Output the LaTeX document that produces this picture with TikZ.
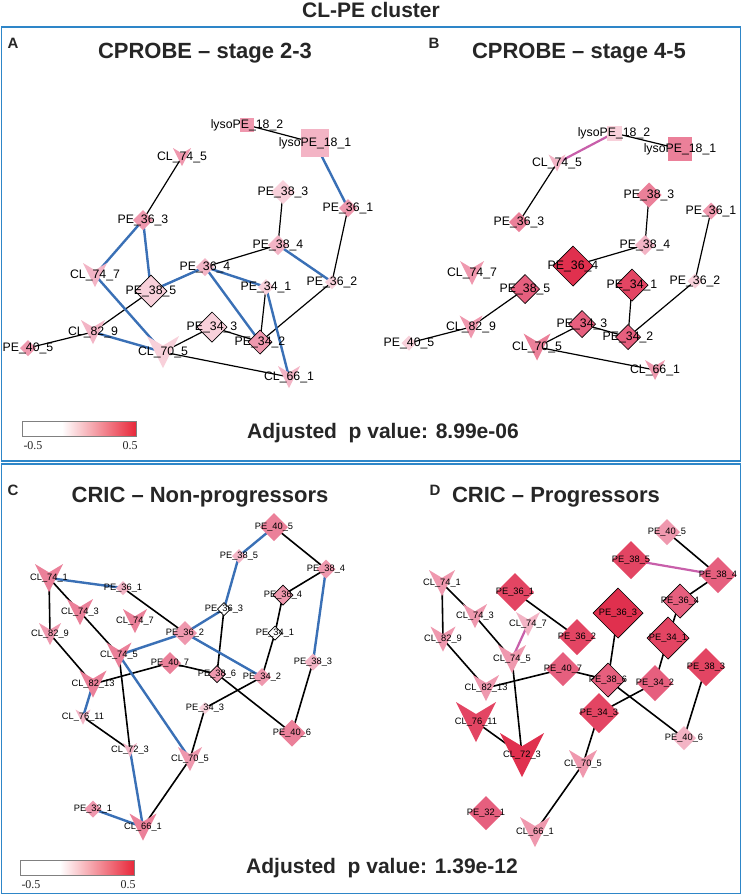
\documentclass[tikz,border=0pt]{standalone}
\usepackage{fontspec}
\setmainfont{Liberation Sans}
\setsansfont{Liberation Sans}
\newfontfamily\serfont{Liberation Serif}
\pgfdeclarelayer{bg}
\pgfdeclarelayer{edges}
\pgfdeclarelayer{shapes}
\pgfsetlayers{bg,edges,shapes,main}
\definecolor{p1}{HTML}{F8D0DA}
\definecolor{p2}{HTML}{F3B4C5}
\definecolor{p3}{HTML}{EF98AE}
\definecolor{p4}{HTML}{EB8099}
\definecolor{p5}{HTML}{E65F7E}
\definecolor{p6}{HTML}{E34563}
\definecolor{p7}{HTML}{E0304E}
\definecolor{edgeblue}{HTML}{3A70B6}
\definecolor{edgemag}{HTML}{C85FAA}
\definecolor{framecol}{HTML}{2E86C8}
\definecolor{titlecol}{HTML}{262626}
\definecolor{barred}{HTML}{E8283A}
\tikzset{
  lab/.style={font=\fontsize{12.3}{12.3}\selectfont, inner sep=0pt, text=black},
  blk/.style={line width=1.2pt, black},
  blu/.style={line width=2.4pt, edgeblue},
  mag/.style={line width=2.2pt, edgemag},
  ttl/.style={font=\bfseries\fontsize{22}{22}\selectfont, text=titlecol, anchor=base, inner sep=0pt},
  plet/.style={font=\bfseries\fontsize{15}{15}\selectfont, text=titlecol, anchor=base, inner sep=0pt},
  pval/.style={font=\bfseries\fontsize{21}{21}\selectfont, text=titlecol, anchor=base west, inner sep=0pt},
  barlab/.style={font=\serfont\fontsize{12}{12}\selectfont, text=titlecol, anchor=base, inner sep=0pt},
  frame/.style={draw=framecol, line width=1.5pt}
}
% diamond
\newcommand{\DI}[6]{\node[lab] (#1) at (#2,#3) {#6};
  \begin{pgfonlayer}{shapes}\fill[#5] (#2,#3) ++(0,-#4) -- ++(#4,#4) -- ++(-#4,#4) -- ++(-#4,-#4) -- cycle;\end{pgfonlayer}}
% diamond with border
\newcommand{\DB}[6]{\node[lab] (#1) at (#2,#3) {#6};
  \begin{pgfonlayer}{shapes}\filldraw[fill=#5, draw=black, line width=0.7pt] (#2,#3) ++(0,-#4) -- ++(#4,#4) -- ++(-#4,#4) -- ++(-#4,-#4) -- cycle;\end{pgfonlayer}}
% V shape
\newcommand{\VE}[6]{\node[lab] (#1) at (#2,#3) {#6};
  \begin{pgfonlayer}{shapes}\fill[#5] (#2,#3) ++(-#4,-#4) -- ++(#4,{0.6*#4}) -- ++(#4,{-0.6*#4}) -- ++(-#4,{2*#4}) -- cycle;\end{pgfonlayer}}
% square
\newcommand{\SQ}[6]{\node[lab] (#1) at (#2,#3) {#6};
  \begin{pgfonlayer}{shapes}\fill[#5] (#2,#3) ++(-#4,-#4) rectangle ++({2*#4},{2*#4});\end{pgfonlayer}}
\newcommand{\ED}[3][blk]{\begin{pgfonlayer}{edges}\draw[#1] (#2.center) -- (#3.center);\end{pgfonlayer}}
\newcommand{\CBAR}[3]{% x y prefix
  \fill[white] (#1,#2) rectangle ++(40,15);
  \shade[left color=white, right color=barred] (#1+40,#2) rectangle ++(74,15);
  \draw[gray, line width=0.6pt] (#1,#2) rectangle ++(114,15);
  \node[barlab] (#3-lo) at (#1+11,#2+28) {-0.5};
  \node[barlab] (#3-hi) at (#1+108,#2+28) {0.5};}

\begin{document}
\begin{tikzpicture}[x=1pt,y=-1pt]
\useasboundingbox (0,0) rectangle (743,895);
\begin{pgfonlayer}{bg}\fill[white] (0,0) rectangle (743,895);\end{pgfonlayer}
\node[font=\bfseries\fontsize{21}{21}\selectfont, text=titlecol, anchor=base, inner sep=0pt] (maintitle) at (371,17) {CL-PE cluster};
\draw[frame] (1.5,27) rectangle (740.5,461);
\draw[frame] (1.5,464) rectangle (740.5,893.5);

% ---------------- Panel A
\node[plet] (letA) at (13,48) {A};
\node[ttl] (ttlA) at (205,58) {CPROBE -- stage 2-3};
\SQ{a-l182}{247}{125}{7}{p3}{lysoPE\_18\_2}
\SQ{a-l181}{315}{143}{14}{p2}{lysoPE\_18\_1}
\VE{a-c745}{182}{157}{9}{p3}{CL\_74\_5}
\DI{a-p383}{283}{192}{12}{p1}{PE\_38\_3}
\DI{a-p361}{348}{208}{9}{p3}{PE\_36\_1}
\DI{a-p363}{143}{220}{10}{p3}{PE\_36\_3}
\DI{a-p384}{278}{245}{10}{p2}{PE\_38\_4}
\VE{a-c747}{95}{275}{12}{p2}{CL\_74\_7}
\DB{a-p385}{151}{291}{16}{p1}{PE\_38\_5}
\DI{a-p364}{205}{267}{9}{p2}{PE\_36\_4}
\DI{a-p341}{266}{287}{8}{p1}{PE\_34\_1}
\DI{a-p362}{332}{282}{7}{p1}{PE\_36\_2}
\VE{a-c829}{93}{332}{12}{p2}{CL\_82\_9}
\DI{a-p405}{28}{348}{8}{p3}{PE\_40\_5}
\DB{a-p343}{212}{327}{15}{p1}{PE\_34\_3}
\DB{a-p342}{260}{342}{12}{p3}{PE\_34\_2}
\VE{a-c705}{163}{352}{16}{p1}{CL\_70\_5}
\VE{a-c661}{289}{377}{11}{p2}{CL\_66\_1}
\ED{a-l182}{a-l181}\ED{a-c745}{a-p363}\ED{a-p383}{a-p384}\ED{a-p361}{a-p362}
\ED{a-p384}{a-p364}\ED{a-p385}{a-c829}\ED{a-p341}{a-p342}\ED{a-p362}{a-p342}
\ED{a-c829}{a-p405}\ED{a-c705}{a-p343}\ED{a-p343}{a-p342}\ED{a-c705}{a-c661}
\ED[blu]{a-l181}{a-p361}\ED[blu]{a-p363}{a-c747}\ED[blu]{a-p363}{a-p385}
\ED[blu]{a-p384}{a-p362}\ED[blu]{a-c747}{a-c705}\ED[blu]{a-p385}{a-p364}
\ED[blu]{a-p364}{a-p341}\ED[blu]{a-p364}{a-p342}\ED[blu]{a-p341}{a-c661}
\ED[blu]{a-c829}{a-c705}
\CBAR{22}{421}{a}
\node[pval] (pvalA) at (247,438) {Adjusted\ \ p value: 8.99e-06};

% ---------------- Panel B
\node[plet] (letB) at (434,48) {B};
\node[ttl] (ttlB) at (579,58) {CPROBE -- stage 4-5};
\SQ{b-l182}{614}{133}{7.5}{p1}{lysoPE\_18\_2}
\SQ{b-l181}{680}{149}{12}{p4}{lysoPE\_18\_1}
\VE{b-c745}{557}{163}{8.5}{p2}{CL\_74\_5}
\DI{b-p383}{649}{195}{12.5}{p4}{PE\_38\_3}
\DI{b-p361}{711}{211}{8.5}{p3}{PE\_36\_1}
\DI{b-p363}{519}{222}{10}{p4}{PE\_36\_3}
\DI{b-p384}{645}{245}{10}{p2}{PE\_38\_4}
\DB{b-p364}{573}{266}{20}{p7}{PE\_36\_4}
\VE{b-c747}{472}{273}{12}{p3}{CL\_74\_7}
\DB{b-p341}{632}{285}{16}{p6}{PE\_34\_1}
\DI{b-p362}{695}{281}{7.5}{p1}{PE\_36\_2}
\DB{b-p385}{525}{289}{14.5}{p5}{PE\_38\_5}
\VE{b-c829}{471}{327}{11.5}{p3}{CL\_82\_9}
\DI{b-p405}{409}{343}{7.5}{p1}{PE\_40\_5}
\DB{b-p343}{582}{324}{13.5}{p5}{PE\_34\_3}
\DB{b-p342}{628}{337}{12.5}{p5}{PE\_34\_2}
\VE{b-c705}{537}{347}{13.5}{p4}{CL\_70\_5}
\VE{b-c661}{655}{370}{10}{p3}{CL\_66\_1}
\ED{b-l182}{b-l181}\ED{b-c745}{b-p363}\ED{b-p383}{b-p384}\ED{b-p361}{b-p362}
\ED{b-p384}{b-p364}\ED{b-p341}{b-p342}\ED{b-p362}{b-p342}\ED{b-p385}{b-c829}
\ED{b-c829}{b-p405}\ED{b-c705}{b-p343}\ED{b-p343}{b-p342}\ED{b-c705}{b-c661}
\ED[mag]{b-l182}{b-c745}

% ---------------- Panel C and D
\begin{scope}[lab/.style={font=\fontsize{9.3}{9.3}\selectfont, inner sep=0pt, text=black},
  blk/.style={line width=1.6pt, black}]
\node[plet] (letC) at (13,495) {C};
\node[ttl] (ttlC) at (200,502) {CRIC -- Non-progressors};
\DI{c-p405}{274}{527}{14}{p4}{PE\_40\_5}
\DI{c-p385}{239}{556}{7}{p2}{PE\_38\_5}
\DI{c-p384}{326}{569}{9.5}{p3}{PE\_38\_4}
\VE{c-c741}{49}{578}{14}{p4}{CL\_74\_1}
\DI{c-p361}{123}{588}{7}{p2}{PE\_36\_1}
\DB{c-p364}{283}{595}{10}{p3}{PE\_36\_4}
\DB{c-p363}{224}{609}{6.5}{white}{PE\_36\_3}
\VE{c-c743}{80}{612}{13}{p4}{CL\_74\_3}
\VE{c-c747}{135}{621}{12}{p4}{CL\_74\_7}
\VE{c-c829}{50}{634}{11}{p3}{CL\_82\_9}
\DI{c-p362}{185}{633}{12}{p3}{PE\_36\_2}
\DB{c-p341}{275}{633}{7}{white}{PE\_34\_1}
\VE{c-c745}{119}{655}{12.5}{p4}{CL\_74\_5}
\DI{c-p383}{313}{662}{8.5}{p2}{PE\_38\_3}
\DI{c-p407}{170}{663}{11}{p4}{PE\_40\_7}
\DB{c-p386}{217}{674}{8.5}{p3}{PE\_38\_6}
\DI{c-p342}{262}{677}{9}{p3}{PE\_34\_2}
\VE{c-c8213}{93}{684}{13.5}{p4}{CL\_82\_13}
\DI{c-p343}{205}{708}{6}{p1}{PE\_34\_3}
\VE{c-c7611}{83}{717}{7.5}{p2}{CL\_76\_11}
\DI{c-p406}{292}{733}{13.5}{p4}{PE\_40\_6}
\VE{c-c723}{130}{750}{7}{p2}{CL\_72\_3}
\VE{c-c705}{190}{759}{12}{p3}{CL\_70\_5}
\DI{c-p321}{93}{809}{8.5}{p3}{PE\_32\_1}
\VE{c-c661}{143}{827}{13.5}{p4}{CL\_66\_1}
\ED{c-c741}{c-c829}\ED{c-c741}{c-c743}\ED{c-c743}{c-c745}\ED{c-c829}{c-c8213}
\ED{c-p361}{c-p362}\ED{c-p405}{c-p384}\ED{c-p384}{c-p364}\ED{c-p364}{c-p341}
\ED{c-p341}{c-p342}\ED{c-p363}{c-p386}\ED{c-c745}{c-c723}\ED{c-c8213}{c-p407}
\ED{c-p407}{c-p386}\ED{c-p386}{c-p406}\ED{c-p383}{c-p406}\ED{c-p342}{c-p343}
\ED{c-p343}{c-c705}\ED{c-c7611}{c-c723}\ED{c-c705}{c-c661}
\ED[blu]{c-c741}{c-p361}\ED[blu]{c-p362}{c-p363}\ED[blu]{c-p362}{c-c745}
\ED[blu]{c-p362}{c-p342}\ED[blu]{c-p385}{c-p405}\ED[blu]{c-p385}{c-p363}
\ED[blu]{c-p384}{c-p383}\ED[blu]{c-c745}{c-c705}\ED[blu]{c-c8213}{c-c7611}
\ED[blu]{c-c723}{c-c661}\ED[blu]{c-p321}{c-c661}
\CBAR{20}{860}{c}
\node[pval] (pvalC) at (246,873) {Adjusted\ \ p value: 1.39e-12};

\node[plet] (letD) at (435,495) {D};
\node[ttl] (ttlD) at (556,502) {CRIC -- Progressors};
\DI{d-p405}{667}{532}{13}{p3}{PE\_40\_5}
\DI{d-p385}{631}{560}{19}{p6}{PE\_38\_5}
\DI{d-p384}{718}{575}{18}{p5}{PE\_38\_4}
\VE{d-c741}{442}{583}{13}{p3}{CL\_74\_1}
\DI{d-p361}{515}{592}{19}{p6}{PE\_36\_1}
\DB{d-p364}{680}{601}{17}{p5}{PE\_36\_4}
\DB{d-p363}{618}{613}{25}{p7}{PE\_36\_3}
\VE{d-c743}{475}{616}{12}{p3}{CL\_74\_3}
\VE{d-c747}{528}{624}{12}{p2}{CL\_74\_7}
\DB{d-p341}{668}{638}{21}{p6}{PE\_34\_1}
\VE{d-c829}{443}{639}{12.5}{p3}{CL\_82\_9}
\DI{d-p362}{577}{637}{18}{p6}{PE\_36\_2}
\VE{d-c745}{512}{659}{14}{p3}{CL\_74\_5}
\DI{d-p383}{706}{667}{19}{p6}{PE\_38\_3}
\DI{d-p407}{563}{669}{17}{p5}{PE\_40\_7}
\DB{d-p386}{608}{680}{17}{p5}{PE\_38\_6}
\DI{d-p342}{655}{683}{18}{p5}{PE\_34\_2}
\VE{d-c8213}{486}{688}{13}{p3}{CL\_82\_13}
\DI{d-p343}{599}{713}{20}{p6}{PE\_34\_3}
\VE{d-c7611}{476}{722}{20}{p6}{CL\_76\_11}
\DI{d-p406}{684}{738}{12}{p2}{PE\_40\_6}
\VE{d-c723}{522}{755}{22}{p7}{CL\_72\_3}
\VE{d-c705}{583}{764}{14}{p3}{CL\_70\_5}
\DI{d-p321}{486}{813}{17}{p5}{PE\_32\_1}
\VE{d-c661}{535}{832}{15}{p3}{CL\_66\_1}
\ED{d-p405}{d-p384}\ED{d-p384}{d-p364}\ED{d-c741}{d-c829}\ED{d-c741}{d-c743}
\ED{d-c743}{d-c745}\ED{d-p361}{d-p362}\ED{d-p363}{d-p386}\ED{d-p364}{d-p341}
\ED{d-p341}{d-p342}\ED{d-c829}{d-c8213}\ED{d-c745}{d-c723}\ED{d-c8213}{d-p407}
\ED{d-p407}{d-p386}\ED{d-p386}{d-p406}\ED{d-p383}{d-p406}\ED{d-p342}{d-p343}
\ED{d-p343}{d-c705}\ED{d-c7611}{d-c723}\ED{d-c705}{d-c661}
\ED[mag]{d-p385}{d-p384}\ED[mag]{d-c747}{d-c745}
\end{scope}
\end{tikzpicture}
\end{document}
